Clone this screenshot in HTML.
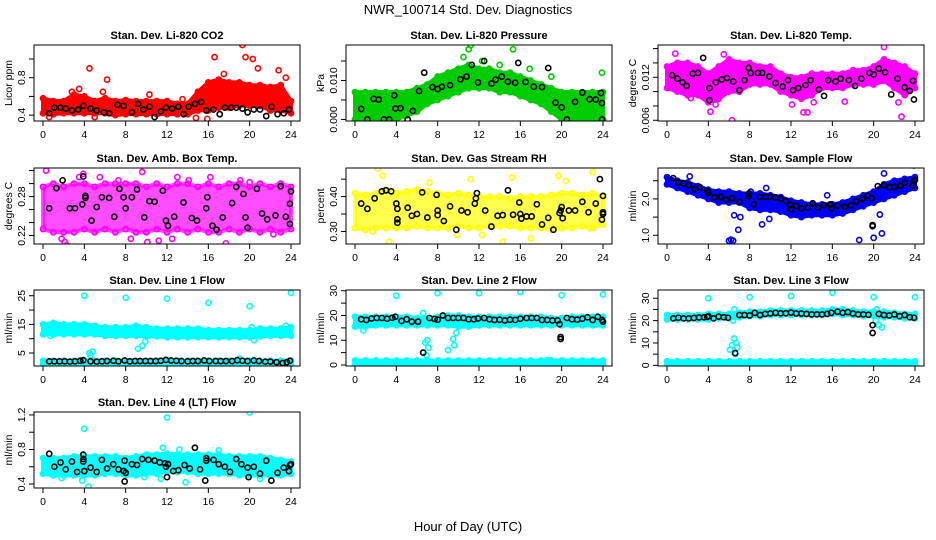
<!DOCTYPE html>
<html><head><meta charset="utf-8"><style>
html,body{margin:0;padding:0;background:#fff;}
svg{display:block;font-family:"Liberation Sans",Arial,sans-serif;}
</style></head><body>
<svg id="c" width="936" height="540" viewBox="0 0 936 540" xmlns="http://www.w3.org/2000/svg">
<rect width="936" height="540" fill="#fff"/>
<text x="468" y="14" text-anchor="middle" font-size="13">NWR_100714  Std. Dev. Diagnostics</text>
<text x="468" y="531" text-anchor="middle" font-size="13">Hour of Day (UTC)</text>
</svg>
<script>
const hours=[0,1,2,3,4,5,6,7,8,9,10,11,12,13,14,15,16,17,18,19,20,21,22,23,24];
const xTicks=[0,4,8,12,16,20,24];

const co2Lo=[0.42,0.41,0.42,0.42,0.42,0.42,0.42,0.40,0.41,0.41,0.41,0.41,0.41,0.41,0.41,0.45,0.45,0.48,0.48,0.50,0.50,0.50,0.45,0.45,0.42];
const co2Hi=[0.58,0.55,0.55,0.62,0.60,0.55,0.58,0.55,0.56,0.55,0.55,0.55,0.55,0.52,0.52,0.65,0.75,0.78,0.75,0.75,0.72,0.72,0.70,0.72,0.55];
const co2Out=[[4.5,0.9],[6.2,0.78],[5.8,0.65],[16.6,1.02],[19.3,1.15],[19.6,1.02],[20.3,1.0],[20.8,0.9],[22.8,0.88],[23.5,0.8],[15.9,0.36],[14.8,0.37],[10.3,0.62],[13.5,0.57],[17.5,0.84],[21.5,0.66],[0.6,0.38],[5,0.38],[2.8,0.65],[3.5,0.68]];
const co2Black=[[0.6,0.42],[1.1,0.48],[1.7,0.48],[2.2,0.47],[2.8,0.45],[3.4,0.46],[3.9,0.5],[4.6,0.47],[5.2,0.45],[5.9,0.43],[6.4,0.42],[7.2,0.51],[7.8,0.5],[8.6,0.43],[9.2,0.52],[9.7,0.46],[10.3,0.49],[10.8,0.38],[11.4,0.44],[11.9,0.48],[12.5,0.47],[13.1,0.49],[13.6,0.41],[14.1,0.49],[14.7,0.52],[15.3,0.54],[15.8,0.45],[16.5,0.46],[17.1,0.41],[17.6,0.48],[18.2,0.48],[18.7,0.48],[19.3,0.47],[19.8,0.43],[20.4,0.46],[21,0.46],[21.6,0.39],[22.1,0.49],[22.7,0.41],[23.3,0.42],[23.8,0.46]];

const presLo=[0,0,0,0,0,0.001,0.002,0.004,0.005,0.006,0.007,0.008,0.008,0.008,0.007,0.007,0.006,0.005,0.004,0.002,0,0,0,0,0];
const presHi=[0.007,0.007,0.007,0.007,0.007,0.007,0.008,0.009,0.011,0.012,0.013,0.014,0.013,0.013,0.012,0.012,0.011,0.010,0.009,0.008,0.007,0.007,0.007,0.007,0.007];
const presOut=[[10.5,0.016],[11,0.018],[11.2,0.019],[15.3,0.018],[23.9,0.012],[16.9,0.013],[19,0.011],[12.3,0.015],[14,0.014],[0.2,0.0025]];
const presBlack=[[0.6,0.0027],[1.2,0],[1.8,0.0053],[2.3,0.0051],[2.8,0],[3.3,0],[3.8,0.0062],[3.9,0.0028],[4.4,0.0029],[5.1,0],[5.6,0.0022],[6.2,0.0073],[6.7,0.012],[7.5,0.0083],[8,0.0078],[8.4,0.0084],[9.2,0.0088],[10.2,0.0103],[10.8,0.011],[11.3,0.014],[11.9,0.0095],[12.5,0.015],[13.2,0.0092],[13.6,0.0102],[14.2,0.011],[14.8,0.0097],[15.5,0.0094],[15.8,0.0145],[16.5,0.0096],[17.3,0.0084],[18.1,0.0083],[18.7,0.0132],[19.4,0.0043],[20,0.0031],[20.5,0],[21.3,0.0045],[22,0.0069],[22.7,0.0052],[23.3,0.0051],[23.8,0.0068],[23.9,0.0042],[23.9,0]];

const ltLo=[0.0105,0.010,0.0095,0.0095,0.0085,0.009,0.010,0.010,0.011,0.011,0.011,0.010,0.0095,0.009,0.0095,0.0105,0.0105,0.0105,0.011,0.011,0.011,0.0115,0.0105,0.0095,0.0105];
const ltHi=[0.0135,0.014,0.014,0.0135,0.0125,0.0135,0.0145,0.014,0.014,0.0135,0.0135,0.0125,0.012,0.012,0.0125,0.0125,0.0125,0.0125,0.013,0.013,0.0135,0.0145,0.014,0.0135,0.0125];
const ltOut=[[0.8,0.0153],[6.3,0.006],[4.2,0.0072],[5.5,0.0152],[13.2,0.0071],[13.6,0.0071],[12.1,0.0082],[21,0.0162],[22.4,0.0085],[22.7,0.0065],[17.2,0.0086],[14.2,0.0085],[2.3,0.0091],[4.7,0.0082]];
const ltBlack=[[0.5,0.0123],[1.0,0.0118],[1.5,0.0113],[1.9,0.0108],[2.5,0.0125],[3.0,0.0126],[3.5,0.0147],[4.1,0.0105],[4.1,0.0088],[4.7,0.0113],[5.3,0.0117],[5.8,0.0119],[6.4,0.0114],[7.0,0.0102],[7.5,0.0116],[7.9,0.0133],[8.1,0.0126],[8.8,0.0126],[9.2,0.0126],[9.9,0.0121],[10.5,0.0112],[11.2,0.0107],[11.7,0.0116],[12.2,0.0102],[12.7,0.0105],[13.4,0.0109],[13.9,0.0116],[14.7,0.0103],[15.2,0.0094],[15.6,0.0116],[16.3,0.0114],[16.8,0.0118],[17.6,0.0116],[18.2,0.0108],[18.8,0.0118],[19.6,0.0126],[20.0,0.0124],[20.5,0.0132],[21.1,0.0127],[21.7,0.0096],[22.3,0.0118],[23.0,0.0106],[23.5,0.0101],[23.8,0.0115],[23.9,0.0089]];

const ambLo=[0.23,0.225,0.225,0.225,0.23,0.225,0.23,0.225,0.23,0.225,0.225,0.23,0.225,0.23,0.225,0.23,0.225,0.225,0.23,0.225,0.23,0.225,0.23,0.225,0.23];
const ambHi=[0.295,0.30,0.295,0.30,0.30,0.295,0.30,0.30,0.30,0.30,0.295,0.30,0.295,0.30,0.30,0.295,0.30,0.295,0.30,0.30,0.295,0.30,0.295,0.30,0.295];
const ambOut=[[0.3,0.32],[2.1,0.21],[2.3,0.205],[1.8,0.215],[3.9,0.315],[5.5,0.31],[7.3,0.305],[9.6,0.318],[10.1,0.21],[11.2,0.212],[13,0.31],[14.1,0.305],[16.2,0.31],[17.7,0.208],[19.1,0.305],[20,0.302],[22.3,0.222],[3.5,0.31],[8.5,0.215],[12.5,0.215]];
const ambBlack=[[0.6,0.262],[1.3,0.293],[1.9,0.305],[2.6,0.262],[3.1,0.262],[3.8,0.268],[3.9,0.311],[4.1,0.281],[4.1,0.278],[4.7,0.243],[5.2,0.264],[5.7,0.279],[6.4,0.278],[6.9,0.249],[7.4,0.292],[7.8,0.279],[8.0,0.262],[8.6,0.279],[9.1,0.291],[9.8,0.248],[10.3,0.273],[10.8,0.272],[11.6,0.289],[11.9,0.243],[12.1,0.235],[12.7,0.249],[13.6,0.271],[14.4,0.247],[14.9,0.243],[15.8,0.262],[15.9,0.279],[16.4,0.235],[16.8,0.229],[17.4,0.248],[18.3,0.27],[18.7,0.295],[19.4,0.284],[19.6,0.248],[19.8,0.232],[20.7,0.292],[21.2,0.254],[21.7,0.245],[22.5,0.251],[23.0,0.296],[23.5,0.249],[23.9,0.238],[23.9,0.269],[24,0.288]];

const rhLo=[0.31,0.305,0.31,0.31,0.31,0.31,0.315,0.31,0.31,0.31,0.315,0.31,0.31,0.315,0.315,0.315,0.31,0.31,0.31,0.305,0.31,0.31,0.315,0.31,0.32];
const rhHi=[0.41,0.405,0.41,0.42,0.41,0.415,0.42,0.415,0.41,0.405,0.41,0.405,0.40,0.40,0.40,0.395,0.40,0.40,0.40,0.405,0.41,0.41,0.405,0.41,0.40];
const rhOut=[[2.2,0.48],[2.7,0.46],[3.3,0.27],[15.2,0.455],[19.7,0.46],[23,0.47],[9.9,0.29],[14.3,0.27],[17,0.28],[12.3,0.29],[1.7,0.30],[7.2,0.44],[11.2,0.45],[20.4,0.445],[22.7,0.31]];
const rhBlack=[[0.6,0.38],[1.2,0.365],[1.9,0.395],[2.6,0.415],[3.0,0.418],[3.5,0.415],[4.0,0.38],[4.1,0.365],[4.1,0.335],[4.1,0.325],[5.1,0.368],[5.5,0.345],[6.0,0.35],[6.5,0.412],[7.0,0.34],[7.9,0.405],[8.0,0.36],[8.0,0.347],[8.6,0.33],[9.2,0.372],[9.8,0.305],[10.3,0.36],[10.9,0.355],[11.6,0.38],[11.7,0.395],[11.8,0.41],[12.6,0.36],[13.2,0.314],[13.8,0.345],[14.3,0.347],[14.8,0.418],[15.3,0.348],[15.9,0.383],[16.0,0.35],[16.1,0.337],[16.6,0.343],[17.1,0.343],[17.6,0.378],[18.1,0.32],[18.7,0.339],[19.2,0.305],[19.8,0.353],[19.9,0.36],[20.0,0.37],[20.1,0.338],[20.7,0.36],[21.3,0.36],[22.0,0.385],[22.6,0.355],[23.3,0.38],[23.7,0.45],[24,0.35],[24,0.355],[24,0.402],[23.9,0.334]];

const sfLo=[2.4,2.3,2.2,2.1,2.0,1.9,1.9,1.9,1.75,1.7,1.7,1.65,1.55,1.5,1.55,1.55,1.55,1.6,1.7,1.8,1.9,2.0,2.1,2.2,2.3];
const sfHi=[2.6,2.5,2.45,2.35,2.25,2.2,2.2,2.15,2.15,2.15,2.1,2.05,1.95,1.9,1.85,1.85,1.85,1.9,2.0,2.1,2.2,2.4,2.5,2.55,2.6];
const sfOut=[[6,0.85],[6.2,0.88],[6.4,0.85],[6.9,1.15],[6.5,1.55],[7.1,1.5],[9.2,1.3],[9.9,1.45],[18.6,0.87],[20.0,0.93],[20.8,1.05],[20.6,1.57],[8.1,2.2],[9.6,2.3],[23.9,2.92],[21.0,2.7],[15.5,2.1],[2.2,2.62]];
const sfBlack=[[0.6,2.57],[1.1,2.45],[1.6,2.43],[2.1,2.38],[2.7,2.27],[3.2,2.32],[3.9,2.22],[4.0,2.17],[4.6,2.04],[5.2,2.06],[5.7,1.98],[6.3,2.02],[7.0,1.92],[7.9,2.07],[7.9,2.14],[8.4,1.85],[9.0,2.05],[9.5,2.06],[10.0,2.06],[10.5,2.04],[11.0,2.01],[11.5,1.94],[11.9,1.84],[12.0,1.72],[12.5,1.81],[13.0,1.74],[13.6,1.76],[14.1,1.88],[14.6,1.76],[15.2,1.83],[15.8,1.85],[15.9,1.74],[16.5,1.81],[17.2,1.78],[17.8,1.82],[18.3,1.93],[18.9,2.01],[19.4,2.09],[19.8,2.02],[19.9,1.25],[19.9,1.28],[20.4,2.35],[21.0,2.38],[21.5,2.32],[22.0,2.33],[22.6,2.36],[23.0,2.45],[23.8,2.37],[23.9,2.5],[24,2.52]];

const l1Lo=[11.5,11.5,11.5,11.5,11.5,11.5,11,11,11,11,10.8,10.8,10.5,10.5,10.5,10.5,10.5,10.5,10.5,10.5,10.5,10.8,11,11,11];
const l1Hi=[15,15.5,15,15,15,14.5,14,14,14,14.5,14,13.5,13.5,13.5,13.5,13.5,13,13,13,13,13,13.5,13.5,13.5,14];
const l1LowLo=[1,1,1,1,1,1,1,1,1,1,1,1,1,1,1,1,1,1,1,1,1,1,1,1,1];
const l1LowHi=[2.3,2.3,2.3,2.3,2.3,2.3,2.3,2.3,2.3,2.3,2.3,2.3,2.3,2.3,2.3,2.3,2.3,2.3,2.3,2.3,2.3,2.3,2.3,2.3,2.3];
const l1Out=[[4,25],[8,24.3],[12,24],[16,22.5],[20,21.3],[24,26],[4.5,5],[4.8,5.5],[9.2,6.5],[9.6,7.5],[9.9,9],[10.1,11],[20.4,9.5],[20.2,14],[19,3],[4.6,4.2],[0.7,11],[23.5,14.5]];
const l1Black=[[0.6,2.1],[1.1,2.1],[1.6,2.1],[2.1,2.1],[2.6,2],[3.1,2.1],[3.6,2.3],[3.9,2.5],[4.6,2.1],[5.2,2],[5.7,2.1],[6.2,2.2],[6.8,2.3],[7.3,2.1],[7.9,2.4],[8.4,2.1],[8.9,2.2],[9.4,2.2],[9.9,2.2],[10.4,2.2],[10.9,2.2],[11.4,2.3],[11.9,2.6],[12.4,2.4],[12.9,2.3],[13.4,2.2],[14.0,2.1],[14.5,2.2],[15.0,2.2],[15.6,2.4],[16.1,2.2],[16.7,2.2],[17.2,2.2],[17.7,2.2],[18.3,2.2],[18.8,2.5],[19.3,2.3],[19.8,2.2],[20.4,2.4],[20.9,2.2],[21.5,2.0],[22.0,2.0],[22.6,1.8],[23.2,1.5],[23.6,1.8],[23.9,2.3]];

const l2Lo=[15.5,15.5,16,16,16,16,16,16,16,16,15.5,15.5,16,16,16,16,16,16,16,16,16,16,16,16,16];
const l2Hi=[19.5,19.5,19.5,19.5,19.5,19.5,19,19,19.5,20,20,19.5,19.5,19.5,19.5,19.5,19.5,19.5,19.5,19,19,19.5,19.5,19.5,19.5];
const l2LowLo=[0,0,0,0,0,0,0,0,0,0,0,0,0,0,0,0,0,0,0,0,0,0,0,0,0];
const l2LowHi=[1.8,1.8,1.8,1.8,1.8,1.8,1.8,1.8,1.8,1.8,1.8,1.8,1.8,1.8,1.8,1.8,1.8,1.8,1.8,1.8,1.8,1.8,1.8,1.8,1.8];
const l2Out=[[4,28],[8,29],[12,29],[16,29.5],[20,28.2],[24,28.5],[0.8,14],[6.8,9],[7,10],[7.1,7],[6.9,4],[9,6],[9.5,10.5],[9.6,8],[9.8,13],[6.6,21],[18.6,2]];
const l2Black=[[0.6,18.5],[1.1,18.2],[1.6,18.8],[2.1,19],[2.6,19],[3.1,18.7],[3.6,19.1],[3.9,19.5],[4.5,17.8],[5.0,18.5],[5.5,17.5],[6.1,17.5],[6.6,5],[7.2,19],[7.7,18.6],[8.0,18.3],[8.5,20],[9.0,19],[9.5,19],[10,19],[10.5,19],[11,18.5],[11.5,18.5],[11.9,18.8],[12.5,19],[13,18.5],[13.5,18.2],[14,18.3],[14.5,18],[15,18.3],[15.5,18.2],[16,18.7],[16.6,19],[17.1,19],[17.6,19],[18.1,18.2],[18.6,18.2],[19.1,18],[19.6,18],[19.8,16.5],[19.9,11.3],[19.9,10.5],[20.5,19],[21,18.5],[21.5,18.3],[22,18.7],[22.5,19.3],[23,18.2],[23.5,19.5],[23.9,18.2],[24,17.5]];

const l3Lo=[20.5,20.5,20.5,20.5,20.5,21,21,21.5,22,22,22.5,22.5,22.5,22.5,22.5,22.5,23,22.5,22.5,22,22,21.5,21.5,21,21];
const l3Hi=[22.5,22.5,22.5,22.5,23,23,23,23.5,24,24,24.5,24.5,24.5,24.5,24.5,24.5,25,25,24.5,24,24,24,23.5,23,23];
const l3LowLo=[0,0,0,0,0,0,0,0,0,0,0,0,0,0,0,0,0,0,0,0,0,0,0,0,0];
const l3LowHi=[1.8,1.8,1.8,1.8,1.8,1.8,1.8,1.8,1.8,1.8,1.8,1.8,1.8,1.8,1.8,1.8,1.8,1.8,1.8,1.8,1.8,1.8,1.8,1.8,1.8];
const l3Out=[[4,30],[8,30.5],[12,31],[16,32.5],[20,30.5],[24,30.5],[6.5,25],[6.4,20],[6.1,7],[6.3,9],[6.5,12],[6.7,10],[6.8,8],[6.6,5],[20.2,20],[20.5,18],[20.8,17],[20.3,25]];
const l3Black=[[0.6,21],[1.1,21.3],[1.6,21],[2.1,21],[2.6,21.2],[3.1,21.4],[3.6,21.5],[3.9,21.7],[4.0,22],[4.5,21],[5.0,21.8],[5.5,21.5],[5.9,21.3],[6.6,5.5],[7.0,22.5],[7.5,22.5],[8.0,22.3],[8.5,23.5],[9.0,22.5],[9.5,23],[10,23.2],[10.5,23.5],[11,23.3],[11.5,23.3],[12,23.6],[12.5,23.2],[13,23.2],[13.5,23],[14,22.8],[14.5,22.8],[15,22.8],[15.5,23],[15.9,23.5],[16.5,24],[17,23.5],[17.5,23.8],[18,23.2],[18.5,22.8],[19,22.8],[19.5,22.6],[19.9,18],[19.9,14.5],[20.5,23],[21,22.5],[21.5,22.3],[22,22.8],[22.5,22],[23,22.5],[23.5,21.5],[23.9,21.3]];

const l4Lo=[0.52,0.50,0.50,0.50,0.50,0.50,0.52,0.52,0.50,0.50,0.52,0.52,0.54,0.54,0.54,0.52,0.52,0.52,0.52,0.50,0.50,0.50,0.50,0.50,0.52];
const l4Hi=[0.70,0.70,0.70,0.72,0.72,0.72,0.72,0.72,0.70,0.72,0.74,0.74,0.75,0.74,0.74,0.74,0.74,0.74,0.72,0.72,0.72,0.72,0.70,0.68,0.66];
const l4Out=[[4,1.04],[12,1.17],[20,1.23],[3.8,0.44],[4.4,0.37],[13.8,0.42],[14.7,0.82],[11.4,0.46],[9.8,0.48],[11.6,0.82],[13.2,0.8],[17,0.79],[1.8,0.47],[21,0.46]];
const l4Black=[[0.6,0.75],[1.1,0.6],[1.7,0.65],[2.2,0.57],[2.8,0.66],[3.3,0.54],[3.9,0.74],[3.9,0.69],[3.9,0.66],[4.0,0.55],[4.6,0.59],[5.2,0.54],[5.7,0.68],[6.2,0.58],[6.8,0.63],[7.3,0.57],[7.8,0.55],[7.9,0.67],[7.9,0.43],[8.0,0.53],[8.6,0.63],[9.1,0.62],[9.6,0.69],[10.2,0.68],[10.8,0.67],[11.3,0.65],[11.8,0.64],[11.9,0.6],[12.0,0.48],[12.1,0.63],[12.6,0.55],[13.1,0.56],[13.7,0.62],[14.2,0.58],[14.7,0.82],[15.2,0.57],[15.7,0.44],[15.8,0.7],[15.8,0.67],[16.5,0.68],[17.0,0.63],[17.6,0.6],[18.1,0.54],[18.7,0.69],[19.2,0.63],[19.8,0.59],[19.9,0.48],[20.4,0.6],[21.0,0.52],[21.6,0.67],[22.1,0.44],[22.7,0.53],[23.3,0.59],[23.8,0.55],[23.9,0.62],[24,0.63]];

const NS='http://www.w3.org/2000/svg';
const svg=document.getElementById('c');
function mk(tag,attrs,parent){const e=document.createElementNS(NS,tag);for(const k in attrs)e.setAttribute(k,attrs[k]);(parent||svg).appendChild(e);return e;}

const panels=[
 {key:'co2',title:'Stan. Dev. Li-820 CO2',ylab:'Licor ppm',col:0,row:0,ymin:0.337,ymax:1.15,ticks:[0.4,0.6,0.8,1.0],labels:{'0.4':'0.4','0.8':'0.8'},color:'#ff0000',op:1,bands:[[co2Lo,co2Hi]],out:co2Out,black:co2Black},
 {key:'pres',title:'Stan. Dev. Li-820 Pressure',ylab:'kPa',col:1,row:0,ymin:-0.0004,ymax:0.0191,ticks:[0,0.005,0.010,0.015],labels:{'0':'0.000','0.01':'0.010'},color:'#00cd00',op:1,bands:[[presLo,presHi]],out:presOut,black:presBlack},
 {key:'ltemp',title:'Stan. Dev. Li-820 Temp.',ylab:'degrees C',col:2,row:0,ymin:0.0059,ymax:0.0165,ticks:[0.006,0.008,0.010,0.012,0.014,0.016],labels:{'0.006':'0.006','0.012':'0.012'},color:'#ff00ff',op:1,bands:[[ltLo,ltHi]],out:ltOut,black:ltBlack},
 {key:'amb',title:'Stan. Dev. Amb. Box Temp.',ylab:'degrees C',col:0,row:1,ymin:0.207,ymax:0.324,ticks:[0.22,0.24,0.26,0.28,0.30,0.32],labels:{'0.22':'0.22','0.28':'0.28'},color:'#ff00ff',op:0.7,bands:[[ambLo,ambHi]],out:ambOut,black:ambBlack},
 {key:'rh',title:'Stan. Dev. Gas Stream RH',ylab:'percent',col:1,row:1,ymin:0.264,ymax:0.482,ticks:[0.30,0.35,0.40,0.45],labels:{'0.3':'0.30','0.4':'0.40'},color:'#ffff00',op:0.7,bands:[[rhLo,rhHi]],out:rhOut,black:rhBlack},
 {key:'sflow',title:'Stan. Dev. Sample Flow',ylab:'ml/min',col:2,row:1,ymin:0.76,ymax:2.85,ticks:[1.0,1.5,2.0,2.5],labels:{'1':'1.0','2':'2.0'},color:'#0000ff',op:1,bands:[[sfLo,sfHi]],out:sfOut,black:sfBlack},
 {key:'line1',title:'Stan. Dev. Line 1 Flow',ylab:'ml/min',col:0,row:2,ymin:0.47,ymax:27,ticks:[5,10,15,20,25],labels:{'5':'5','15':'15','25':'25'},color:'#00ffff',op:1,bands:[[l1Lo,l1Hi],[l1LowLo,l1LowHi]],out:l1Out,black:l1Black},
 {key:'line2',title:'Stan. Dev. Line 2 Flow',ylab:'ml/min',col:1,row:2,ymin:-0.4,ymax:30.3,ticks:[0,5,10,15,20,25,30],labels:{'0':'0','10':'10','20':'20','30':'30'},color:'#00ffff',op:1,bands:[[l2Lo,l2Hi],[l2LowLo,l2LowHi]],out:l2Out,black:l2Black},
 {key:'line3',title:'Stan. Dev. Line 3 Flow',ylab:'ml/min',col:2,row:2,ymin:-0.3,ymax:33.7,ticks:[0,5,10,15,20,25,30],labels:{'0':'0','10':'10','20':'20','30':'30'},color:'#00ffff',op:1,bands:[[l3Lo,l3Hi],[l3LowLo,l3LowHi]],out:l3Out,black:l3Black},
 {key:'line4',title:'Stan. Dev. Line 4 (LT) Flow',ylab:'ml/min',col:0,row:3,ymin:0.354,ymax:1.234,ticks:[0.4,0.6,0.8,1.0,1.2],labels:{'0.4':'0.4','0.8':'0.8','1.2':'1.2'},color:'#00ffff',op:1,bands:[[l4Lo,l4Hi]],out:l4Out,black:l4Black}
];
const colLeft=[34,346,658], rowTop=[45,168,290,412], W=266, H=76;

panels.forEach(p=>{
 const L=colLeft[p.col], T=rowTop[p.row], R=L+W, B=T+H;
 const g=mk('g',{});
 
 
 const xs=h=>L+9+h*(R-L-18)/24;
 const ys=v=>B-(v-p.ymin)/(p.ymax-p.ymin)*H;
 const clip=mk('clipPath',{id:'cl-'+p.key},g);
 mk('rect',{x:L,y:T,width:W,height:H},clip);
 const plot=mk('g',{'clip-path':'url(#cl-'+p.key+')'},g);
 p.bands.forEach((b,bi)=>{
  const lo=b[0],hi=b[1];
  let pts=hours.map((h,i)=>xs(h)+','+ys(hi[i]));
  pts=pts.concat(hours.slice().reverse().map((h,j)=>{const i=hours.length-1-j;return xs(h)+','+ys(lo[i]);}));
  const poly=mk('polygon',{points:pts.join(' '),fill:p.color,'fill-opacity':p.op,stroke:p.color,'stroke-opacity':p.op,'stroke-width':4,'stroke-linejoin':'round'},plot);
  
  
  hours.forEach((h,i)=>{
   [lo[i],hi[i]].forEach(v=>{
    const c=mk('circle',{cx:xs(h),cy:ys(v),r:2.6,fill:'none',stroke:p.color,'stroke-width':1.6},plot);
    
    
   });
  });
 });
 p.out.forEach(d=>{
  const c=mk('circle',{cx:xs(d[0]),cy:ys(d[1]),r:2.6,fill:'none',stroke:p.color,'stroke-width':1.6},plot);
  
  
 });
 p.black.forEach(d=>{
  const c=mk('circle',{cx:xs(d[0]),cy:ys(d[1]),r:2.6,fill:'none',stroke:'#000','stroke-width':1.6},plot);
  
  
 });
 const box=mk('rect',{x:L,y:T,width:W,height:H,fill:'none',stroke:'#000','stroke-width':1},g);
 
 
 const t=mk('text',{x:L+W/2,y:T-6,'text-anchor':'middle','font-size':11,'font-weight':'bold'},g);
 t.textContent=p.title;
 
 
 const yl=mk('text',{x:0,y:0,'text-anchor':'middle','font-size':10.5,transform:'translate('+(L-22)+','+(T+H/2)+') rotate(-90)'},g);
 yl.textContent=p.ylab;
 
 
 xTicks.forEach(h=>{
  mk('line',{x1:xs(h),x2:xs(h),y1:B,y2:B+5,stroke:'#000','stroke-width':1},g);
  const tx=mk('text',{x:xs(h),y:B+17,'text-anchor':'middle','font-size':10.5},g);
  tx.textContent=String(h);
  
  
 });
 p.ticks.forEach(v=>{
  const y=ys(v);
  mk('line',{x1:L-5,x2:L,y1:y,y2:y,stroke:'#000','stroke-width':1},g);
  const lab=p.labels[String(+v.toFixed(4))];
  if(lab){
   const tl=mk('text',{x:0,y:0,'text-anchor':'middle','font-size':10.5,transform:'translate('+(L-9)+','+y+') rotate(-90)'},g);
   tl.textContent=lab;
   
   
  }
 });
});
</script>
</body></html>
